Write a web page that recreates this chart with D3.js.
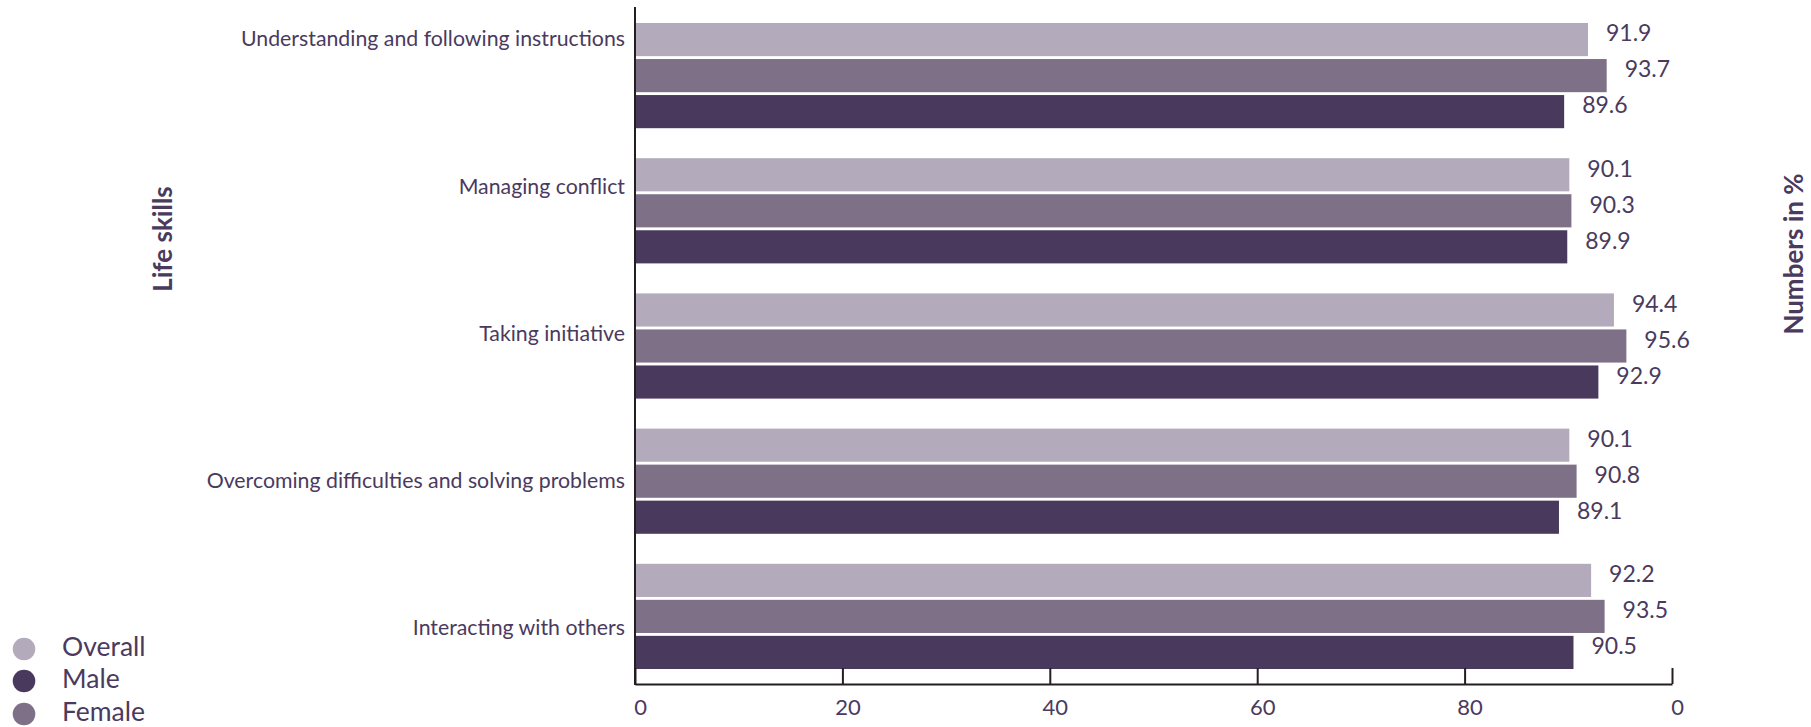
<!DOCTYPE html>
<html>
<head>
<meta charset="utf-8">
<script src="https://cdn.jsdelivr.net/npm/d3@7"></script>
<style>
  html, body { margin: 0; padding: 0; background: #ffffff; }
  svg { display: block; font-family: Lato, "Open Sans", sans-serif; }
</style>
</head>
<body>
<svg id="chart" width="1811" height="727"></svg>
<script>
// Life skills, share of respondents (%)
const categories = [
  "Understanding and following instructions",
  "Managing conflict",
  "Taking initiative",
  "Overcoming difficulties and solving problems",
  "Interacting with others"
];
const overall = [91.9, 90.1, 94.4, 90.1, 92.2];
const female  = [93.7, 90.3, 95.6, 90.8, 93.5];
const male    = [89.6, 89.9, 92.9, 89.1, 90.5];

const seriesNames = ["Overall", "Female", "Male"];
const legendOrder = ["Overall", "Male", "Female"];
const tickValues = [0, 20, 40, 60, 80, 100];
const tickLabels = ["0", "20", "40", "60", "80", "0"];

const colors = { Overall: "#b3aabb", Female: "#7e7087", Male: "#49395d" };
const textColor = "#4a3a5e";
const axisColor = "#231f20";

const svg = d3.select("#chart");

const x = d3.scaleLinear().domain([0, 100]).range([635, 1672]);
const y = d3.scaleBand().domain(categories).range([8, 684]).paddingInner(0.222).paddingOuter(0.111);
const ySub = d3.scaleBand().domain(seriesNames).range([0, y.bandwidth()]).paddingInner(0.08);
const yLabel = d3.scalePoint().domain(categories).range([41, 630]);

const valuesBySeries = { Overall: overall, Female: female, Male: male };

const rows = categories.flatMap((c, i) =>
  seriesNames.map(s => ({ category: c, series: s, value: valuesBySeries[s][i] }))
);

// Bars
svg.append("g").selectAll("rect")
  .data(rows)
  .join("rect")
  .attr("x", x(0))
  .attr("y", d => y(d.category) + ySub(d.series))
  .attr("width", d => x(d.value) - x(0))
  .attr("height", ySub.bandwidth())
  .attr("fill", d => colors[d.series]);

// Value labels
svg.append("g").selectAll("text")
  .data(rows)
  .join("text")
  .attr("x", d => x(d.value) + 18)
  .attr("y", d => y(d.category) + ySub(d.series) + ySub.bandwidth() / 2 - 4)
  .attr("dominant-baseline", "middle")
  .attr("font-size", 23)
  .attr("fill", textColor)
  .text(d => d.value.toFixed(1));

// Category labels
svg.append("g").selectAll("text")
  .data(categories)
  .join("text")
  .attr("x", 625)
  .attr("y", d => yLabel(d))
  .attr("dominant-baseline", "middle")
  .attr("text-anchor", "end")
  .attr("font-size", 21.3)
  .attr("fill", textColor)
  .text(d => d);

// Left axis line
svg.append("line")
  .attr("x1", x(0)).attr("x2", x(0))
  .attr("y1", 7).attr("y2", 685)
  .attr("stroke", axisColor).attr("stroke-width", 2);

// Bottom axis
const xAxis = d3.axisBottom(x)
  .tickValues(tickValues)
  .tickSize(-16)
  .tickSizeOuter(0)
  .tickFormat((d, i) => tickLabels[i]);

const gx = svg.append("g")
  .attr("transform", "translate(0,684)")
  .call(xAxis);
gx.select(".domain").attr("stroke", axisColor).attr("stroke-width", 2);
gx.selectAll(".tick line").attr("stroke", axisColor).attr("stroke-width", 2);
gx.selectAll(".tick text")
  .attr("fill", textColor)
  .attr("font-family", "Lato, sans-serif")
  .attr("font-size", 22)
  .attr("text-anchor", "middle")
  .attr("x", 5)
  .attr("y", 15);

// Axis titles
svg.append("text")
  .attr("transform", "translate(172,239) rotate(-90)")
  .attr("text-anchor", "middle")
  .attr("font-size", 26)
  .attr("font-weight", "bold")
  .attr("fill", textColor)
  .text("Life skills");

svg.append("text")
  .attr("transform", "translate(1803,254) rotate(-90)")
  .attr("text-anchor", "middle")
  .attr("font-size", 26)
  .attr("font-weight", "bold")
  .attr("fill", textColor)
  .text("Numbers in %");

// Legend
const legend = svg.append("g").selectAll("g")
  .data(legendOrder)
  .join("g")
  .attr("transform", (d, i) => `translate(24,${[649, 681, 714][i]})`);
legend.append("circle")
  .attr("r", 11.3)
  .attr("fill", d => colors[d]);
legend.append("text")
  .attr("x", 38)
  .attr("dominant-baseline", "middle")
  .attr("font-size", 26.5)
  .attr("fill", textColor)
  .text(d => d);
</script>
</body>
</html>
